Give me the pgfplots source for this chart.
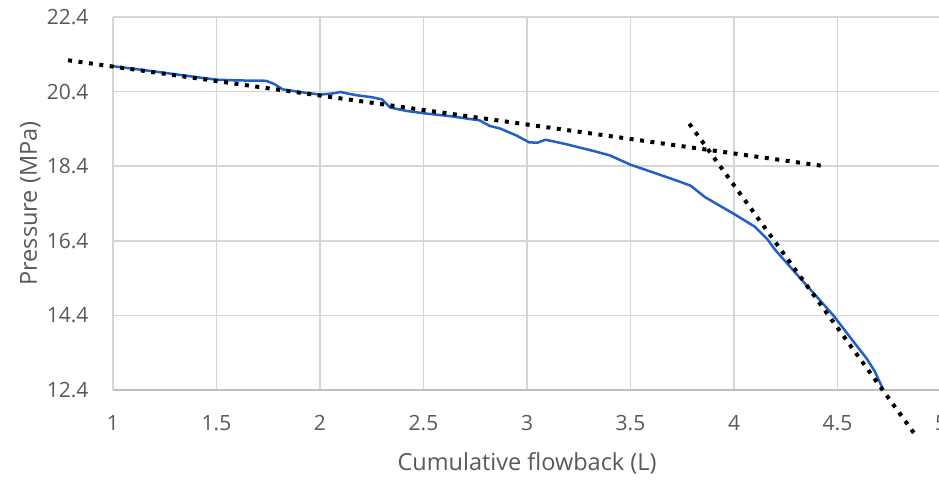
\documentclass[border=0pt]{standalone}
\usepackage{fontspec}
\setmainfont{Open Sans}
\usepackage{pgfplots}
\pgfplotsset{compat=1.18}
\definecolor{bl}{RGB}{35,95,200}
\definecolor{gr}{RGB}{89,89,89}
\definecolor{gl}{RGB}{214,214,214}
\definecolor{ax}{RGB}{191,191,191}
\pgfplotstableread{
x y
1.00 21.08
1.20 20.94
1.40 20.79
1.50 20.72
1.60 20.70
1.74 20.69
1.78 20.60
1.82 20.46
1.90 20.39
2.00 20.32
2.06 20.35
2.10 20.39
2.14 20.34
2.18 20.30
2.25 20.25
2.30 20.19
2.34 19.97
2.42 19.88
2.50 19.82
2.63 19.74
2.77 19.63
2.82 19.48
2.87 19.41
2.95 19.22
3.01 19.04
3.05 19.03
3.09 19.11
3.19 18.99
3.32 18.81
3.40 18.69
3.50 18.44
3.59 18.27
3.72 18.02
3.79 17.88
3.84 17.66
3.86 17.57
4.00 17.12
4.10 16.78
4.16 16.45
4.20 16.15
4.30 15.52
4.40 14.90
4.48 14.40
4.56 13.82
4.64 13.25
4.68 12.90
4.72 12.42
}\flowdata
\begin{document}
\begin{tikzpicture}[x=1pt,y=1pt]
\begin{axis}[
  at={(0,0)}, anchor=south west,
  scale only axis, width=828pt, height=373pt,
  xmin=1, xmax=5, ymin=12.4, ymax=22.4,
  clip=false,
  axis line style={draw=none},
  xtick={1,1.5,2,2.5,3,3.5,4,4.5,5},
  xticklabels={1,1.5,2,2.5,3,3.5,4,4.5,5},
  ytick={12.4,14.4,16.4,18.4,20.4,22.4},
  yticklabels={12.4,14.4,16.4,18.4,20.4,22.4},
  grid=major,
  grid style={gl, line width=1.5pt},
  major tick length=0pt,
  tick label style={font=\fontsize{21}{25}\selectfont, text=gr},
  xticklabel style={anchor=north, yshift=-22pt},
  yticklabel style={anchor=east, xshift=-21pt},
  xlabel={Cumulative flowback (L)},
  ylabel={Pressure (MPa)},
  label style={font=\fontsize{23.5}{28}\selectfont, text=gr},
  xlabel style={at={(axis description cs:0.5,0)}, anchor=base, yshift=-80pt},
  ylabel style={at={(axis description cs:0,0.5)}, anchor=base, yshift=76pt},
]
\draw[ax, line width=1.5pt] (axis cs:1,12.4) -- (axis cs:5,12.4);
\addplot[bl, line width=2.5pt, line join=round] table[x=x,y=y] {\flowdata};
\addplot[black, line width=4pt, dash pattern=on 4pt off 6.5pt] coordinates {(0.783,21.24) (4.44,18.40)};
\addplot[black, line width=4pt, dash pattern=on 4pt off 6.5pt] coordinates {(3.784,19.54) (4.874,11.21)};
\end{axis}
\pgfresetboundingbox
\path[use as bounding box] (-113,-90) rectangle (826,390);
\end{tikzpicture}
\end{document}
